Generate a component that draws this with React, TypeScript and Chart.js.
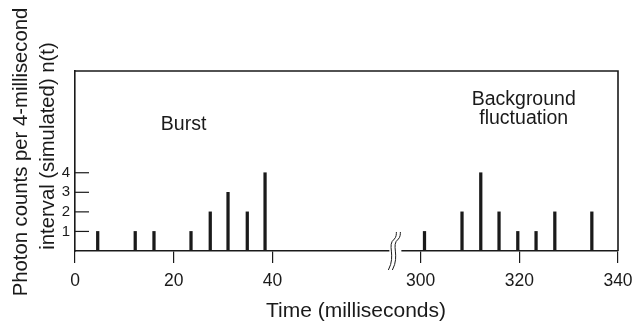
import React, { useEffect, useRef } from "react";
import { Chart, registerables } from "chart.js";

Chart.register(...registerables);

// ---- data ----
const burstTimes = [4.6, 12.2, 16.0, 23.5, 27.4, 31.0, 34.9, 38.5];
const burstCounts = [1, 1, 1, 1, 2, 3, 2, 4];
const backgroundTimes = [300.8, 308.4, 312.2, 315.9, 319.7, 323.4, 327.2, 334.7];
const backgroundCounts = [1, 2, 4, 2, 1, 1, 2, 2];
const xTickLabels = [0, 20, 40, 300, 320, 340];
const yTickValues = [1, 2, 3, 4];
const yTitleLines = ["Photon counts per 4-millisecond", "interval (simulated) n(t)"];
const xTitle = "Time (milliseconds)";
const annotations = [
  { lines: ["Burst"], time: 22, count: 6.2 },
  { lines: ["Background", "fluctuation"], time: 320.9, count: 7.44 },
];

// axis break: times above BREAK_AT are shifted left by GAP
const BREAK_AT = 100;
const GAP = 230;
const breakTime = 64.9; // position of the break mark on the compressed axis
const toAxis = (t: number) => (t > BREAK_AT ? t - GAP : t);
const fromAxis = (v: number) => (v > breakTime ? v + GAP : v);

const FONT = "'Liberation Sans', Arial, Helvetica, sans-serif";
const INK = "#1a1a1a";

export default function App() {
  const ref = useRef<HTMLCanvasElement | null>(null);

  useEffect(() => {
    document.body.style.margin = "0";
    const canvas = ref.current!;
    const points = [
      ...burstTimes.map((t, i) => ({ x: toAxis(t), y: burstCounts[i] })),
      ...backgroundTimes.map((t, i) => ({ x: toAxis(t), y: backgroundCounts[i] })),
    ];

    const decor = {
      id: "decor",
      afterDraw(chart: any) {
        const { ctx, chartArea } = chart;
        const xs = chart.scales.x;
        const ys = chart.scales.y;
        ctx.save();
        // frame top and right
        ctx.strokeStyle = INK;
        ctx.lineWidth = 1.6;
        ctx.beginPath();
        ctx.moveTo(chartArea.left, chartArea.top);
        ctx.lineTo(chartArea.right, chartArea.top);
        ctx.lineTo(chartArea.right, chartArea.bottom);
        ctx.stroke();
        // inner y ticks
        ctx.lineWidth = 1.2;
        yTickValues.forEach((v) => {
          const py = ys.getPixelForValue(v);
          ctx.beginPath();
          ctx.moveTo(chartArea.left, py);
          ctx.lineTo(chartArea.left + 14, py);
          ctx.stroke();
        });
        // axis break
        const bx = xs.getPixelForValue(breakTime);
        const by = chartArea.bottom;
        ctx.fillStyle = "#fff";
        ctx.fillRect(bx - 6, by - 3, 12, 6);
        ctx.lineWidth = 1;
        [-5, -1].forEach((dx) => {
          const x0 = bx + dx;
          ctx.beginPath();
          ctx.moveTo(x0 - 2, by + 19);
          ctx.bezierCurveTo(x0 + 6, by + 4, x0 - 4, by - 6, x0 + 4, by - 12);
          ctx.bezierCurveTo(x0 + 6, by - 14, x0 + 6, by - 17, x0 + 6, by - 19);
          ctx.stroke();
        });
        // annotations
        ctx.fillStyle = INK;
        ctx.font = `19.5px ${FONT}`;
        ctx.textAlign = "center";
        ctx.textBaseline = "alphabetic";
        annotations.forEach((a) => {
          const px = xs.getPixelForValue(toAxis(a.time));
          const py = ys.getPixelForValue(a.count);
          a.lines.forEach((l, i) => ctx.fillText(l, px, py + i * 19));
        });
        // axis titles
        ctx.font = `21px ${FONT}`;
        ctx.fillText(xTitle, 356, 317);
        ctx.font = `20.3px ${FONT}`;
        ctx.save();
        ctx.translate(27, 152);
        ctx.rotate(-Math.PI / 2);
        ctx.fillText(yTitleLines[0], 0, 0);
        ctx.restore();
        ctx.save();
        ctx.translate(54, 146);
        ctx.rotate(-Math.PI / 2);
        ctx.fillText(yTitleLines[1], 0, 0);
        ctx.restore();
        ctx.restore();
      },
    };

    const chart = new Chart(canvas, {
      type: "bar",
      data: {
        datasets: [
          {
            data: points,
            backgroundColor: INK,
            borderWidth: 0,
            barThickness: 2.6,
          },
        ],
      },
      options: {
        animation: false,
        responsive: false,
        devicePixelRatio: 1,
        layout: { padding: { top: 71, right: 15, left: 0, bottom: 0 } },
        plugins: { legend: { display: false }, tooltip: { enabled: false } },
        scales: {
          x: {
            type: "linear",
            min: 0,
            max: 110,
            offset: false,
            afterBuildTicks: (s: any) => {
              s.ticks = xTickLabels.map((v) => ({ value: toAxis(v) }));
            },
            afterFit: (s: any) => {
              s.height = 70;
              s.paddingLeft = 0;
              s.paddingRight = 0;
            },
            ticks: {
              autoSkip: false,
              maxRotation: 0,
              padding: 8,
              color: INK,
              font: { family: FONT, size: 17.5 },
              callback: (v: any) => String(fromAxis(Number(v))),
            },
            grid: {
              display: true,
              offset: false,
              drawOnChartArea: false,
              drawTicks: true,
              tickLength: 12,
              color: INK,
              lineWidth: 1.2,
            },
            border: { display: true, color: INK, width: 1.6 },
          },
          y: {
            type: "linear",
            min: 0,
            max: 9.2,
            afterBuildTicks: (s: any) => {
              s.ticks = yTickValues.map((v) => ({ value: v }));
            },
            afterFit: (s: any) => {
              s.width = 75;
              s.paddingTop = 0;
              s.paddingBottom = 0;
            },
            ticks: {
              padding: 5,
              color: INK,
              font: { family: FONT, size: 15 },
            },
            grid: { display: false, drawTicks: false },
            border: { display: true, color: INK, width: 1.6 },
          },
        },
      },
      plugins: [decor],
    });
    return () => chart.destroy();
  }, []);

  return (
    <div style={{ width: 633, height: 321 }}>
      <canvas ref={ref} width={633} height={321} />
    </div>
  );
}
